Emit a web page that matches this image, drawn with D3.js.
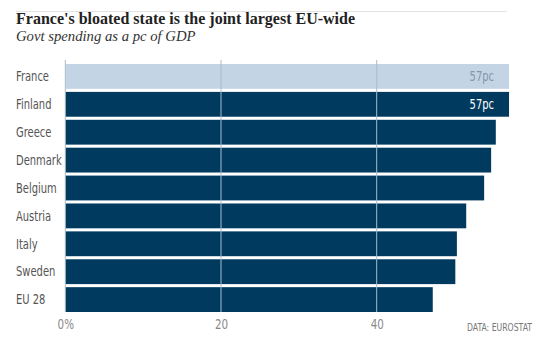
<!DOCTYPE html>
<html><head><meta charset="utf-8">
<script src="https://cdn.jsdelivr.net/npm/d3@7"></script>
<style>body{margin:0;background:#fff}svg{display:block}</style>
</head><body>
<script>
const categories = ["France","Finland","Greece","Denmark","Belgium","Austria","Italy","Sweden","EU 28"];
const values = [57.0, 57.0, 55.3, 54.7, 53.8, 51.5, 50.3, 50.1, 47.2];
const valueLabels = ["57pc","57pc","","","","","","",""];
const tickValues = [0, 20, 40];
const tickLabels = ["0%","20","40"];

const W = 550, H = 351;
const svg = d3.select("body").append("svg").attr("width", W).attr("height", H);

svg.append("line").attr("x1",16).attr("x2",507).attr("y1",11.5).attr("y2",11.5)
  .attr("stroke","#e2e2e2").attr("stroke-width",1);
svg.append("text").attr("x",16).attr("y",24)
  .attr("font-family","'Liberation Serif', 'DejaVu Serif', serif").attr("font-weight","bold")
  .attr("font-size",16).attr("fill","#222").text("France's bloated state is the joint largest EU-wide");
svg.append("text").attr("x",16).attr("y",41)
  .attr("font-family","'Liberation Serif', 'DejaVu Serif', serif").attr("font-style","italic")
  .attr("font-size",14.7).attr("fill","#333").text("Govt spending as a pc of GDP");

const x = d3.scaleLinear().domain([0, 40]).range([65.3, 376.7]);
const y = d3.scaleBand().domain(categories).range([64, 312]).paddingInner(0.11).paddingOuter(0);

const font = "'DejaVu Sans Condensed', 'DejaVu Sans', sans-serif";
const sx = 0.82;

svg.append("g").selectAll("rect").data(categories).join("rect")
  .attr("x", x(0)).attr("y", d => y(d))
  .attr("width", (d,i) => x(values[i]) - x(0))
  .attr("height", y.bandwidth())
  .attr("fill", (d,i) => i === 0 ? "#c3d4e4" : "#003a5e");

// gridlines on top
svg.append("g").selectAll("line").data(tickValues).join("line")
  .attr("x1", d => x(d)).attr("x2", d => x(d))
  .attr("y1", 60).attr("y2", 312)
  .attr("stroke", "#a9bccd").attr("stroke-width", 1);

// category labels
svg.append("g").selectAll("text").data(categories).join("text")
  .attr("transform", d => `translate(16,${y(d) + y.bandwidth()/2 + 4.8}) scale(${sx},1)`)
  .attr("font-family", font).attr("font-size", 13.5).attr("fill", "#555")
  .text(d => d);

// value labels
svg.append("g").selectAll("text").data(categories).join("text")
  .attr("transform", d => `translate(494,${y(d) + y.bandwidth()/2 + 4.8}) scale(${sx},1)`)
  .attr("text-anchor","end")
  .attr("font-family", font).attr("font-size", 13.5)
  .attr("fill", (d,i) => i === 0 ? "#8497ab" : "#ffffff")
  .text((d,i) => valueLabels[i]);

// axis
const axis = d3.axisBottom(x).tickValues(tickValues).tickSize(0).tickFormat((d,i) => tickLabels[i]);
const ag = svg.append("g").attr("transform","translate(0,316)").call(axis);
ag.select(".domain").remove();
ag.selectAll(".tick text").attr("font-family", font).attr("font-size", 14).attr("fill","#888")
  .attr("dy","0.71em").attr("y",3).attr("transform", `scale(${sx},1)`)
  .attr("x", 0);

svg.append("text").attr("transform", `translate(532,331) scale(${sx},1)`).attr("text-anchor","end")
  .attr("font-family", font).attr("font-size",10.5).attr("fill","#777").text("DATA: EUROSTAT");
</script>
</body></html>
